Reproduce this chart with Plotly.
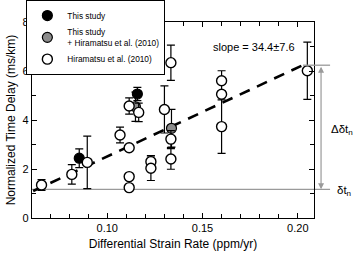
import plotly.graph_objects as go

# ---- data ----
this_x = [0.0853, 0.1158]
this_y = [2.44, 5.06]
this_err = [0.38, 0.27]

comb_x = [0.1148, 0.1337]
comb_y = [4.54, 3.66]
comb_err = [0.60, 0.77]

hira_x = [0.0655, 0.0814, 0.0895, 0.1067, 0.1115, 0.1115, 0.1115, 0.1115,
          0.1165, 0.1229, 0.1229, 0.1300, 0.1334, 0.1334, 0.1334,
          0.1600, 0.1600, 0.1600, 0.2050]
hira_y = [1.35, 1.78, 2.27, 3.39, 4.57, 2.87, 1.69, 1.24,
          4.31, 2.30, 2.03, 4.43, 6.34, 3.22, 2.41,
          5.60, 5.05, 3.73, 6.01]
hira_err = [0.22, 0.40, 1.07, 0.32, 0.33, 0.0, 0.0, 0.0,
            0.38, 0.25, 0.50, 0.96, 0.72, 0.35, 0.42,
            0.41, 0.0, 1.09, 1.17]

fit_slope = 36.3
fit_intercept = -1.118
fit_x = [0.0611, 0.2026]
fit_y = [fit_intercept + fit_slope * v for v in fit_x]

delta_tn = 1.17
slope_label = "slope = 34.4±7.6"

x_range = [0.0605, 0.2085]
y_range = [0, 8]

FONT = "Liberation Sans, Arial, Helvetica, sans-serif"
GRAY = "#9a9a9a"

fig = go.Figure()

fig.add_trace(go.Scatter(
    x=fit_x, y=fit_y, mode="lines", showlegend=False,
    line=dict(color="black", width=2.6, dash="11px,8px"), hoverinfo="skip"))

def err(a):
    return dict(type="data", array=a, visible=True, color="black",
                thickness=1.2, width=4)

fig.add_trace(go.Scatter(
    x=this_x, y=this_y, mode="markers", name="This study",
    error_y=err(this_err),
    marker=dict(symbol="circle", size=10, color="black",
                line=dict(color="black", width=1.2))))
fig.add_trace(go.Scatter(
    x=comb_x, y=comb_y, mode="markers",
    name="This study<br>+ Hiramatsu et al. (2010)",
    error_y=err(comb_err),
    marker=dict(symbol="circle", size=10, color="#8c8c8c",
                line=dict(color="black", width=1.2))))
fig.add_trace(go.Scatter(
    x=hira_x, y=hira_y, mode="markers", name="Hiramatsu et al. (2010)",
    error_y=err(hira_err),
    marker=dict(symbol="circle", size=10, color="white",
                line=dict(color="black", width=1.4))))

# gray reference lines
fig.add_shape(type="line", xref="paper", yref="y", x0=0, x1=1.057,
              y0=delta_tn, y1=delta_tn, line=dict(color=GRAY, width=1.3),
              layer="below")
fig.add_shape(type="line", xref="paper", yref="y", x0=0.961, x1=1.057,
              y0=fit_y[1], y1=fit_y[1], line=dict(color=GRAY, width=1.3))

# double-headed arrow
fig.add_annotation(xref="paper", yref="y", x=1.025, y=delta_tn,
                   axref="pixel", ayref="y", ax=0, ay=fit_y[1],
                   showarrow=True, arrowhead=2, startarrowhead=2,
                   arrowside="end+start", arrowsize=1, startarrowsize=1,
                   arrowwidth=1.2, arrowcolor=GRAY, text="")

fig.add_annotation(xref="paper", yref="y", x=1.142, y=(delta_tn + fit_y[1]) / 2 - 0.1,
                   text="Δδt<sub>n</sub>", showarrow=False, xanchor="right",
                   borderpad=0,
                   font=dict(family=FONT, size=11.5, color="black"))
fig.add_annotation(xref="paper", yref="y", x=1.135, y=delta_tn - 0.05,
                   text="δt<sub>n</sub>", showarrow=False, xanchor="right",
                   borderpad=0,
                   font=dict(family=FONT, size=11.5, color="black"))
fig.add_annotation(xref="paper", yref="paper", x=0.94, y=0.915,
                   text=slope_label, showarrow=False, xanchor="right",
                   font=dict(family=FONT, size=11, color="black"))

fig.update_layout(
    width=356, height=254,
    margin=dict(l=32, r=42, t=22, b=36, autoexpand=False),
    paper_bgcolor="white", plot_bgcolor="white",
    font=dict(family=FONT, size=11, color="black"),
    showlegend=True,
    legend=dict(x=-0.02, y=1.112, xanchor="left", yanchor="top",
                bgcolor="white", bordercolor="black", borderwidth=1,
                font=dict(family=FONT, size=8.3, color="black"),
                itemwidth=30, tracegroupgap=0),
    xaxis=dict(range=x_range, showgrid=False, zeroline=False, automargin=False,
               showline=True, linecolor="black", linewidth=1.3,
               mirror="allticks", ticks="inside", ticklen=5, tickwidth=1,
               tickcolor="black", tick0=0, dtick=0.05, tickformat=".2f",
               minor=dict(dtick=0.01, ticks="inside", ticklen=4,
                          tickcolor="black", tickwidth=1),
               title=dict(text="Differential Strain Rate (ppm/yr)",
                          font=dict(size=12), standoff=6),
               tickfont=dict(size=11)),
    yaxis=dict(range=y_range, showgrid=False, zeroline=False, automargin=False,
               showline=True, linecolor="black", linewidth=1.3,
               mirror="allticks", ticks="inside", ticklen=5, tickwidth=1,
               tickcolor="black", tick0=0, dtick=2,
               minor=dict(dtick=1, ticks="inside", ticklen=4,
                          tickcolor="black", tickwidth=1),
               title=dict(text="Normalized Time Delay (ms/km)",
                          font=dict(size=12), standoff=4),
               tickfont=dict(size=11)),
)

fig.write_html(
    "out.html",
    config={"displayModeBar": False},
    post_script="document.body.style.margin='0';document.body.style.overflow='hidden';",
)
